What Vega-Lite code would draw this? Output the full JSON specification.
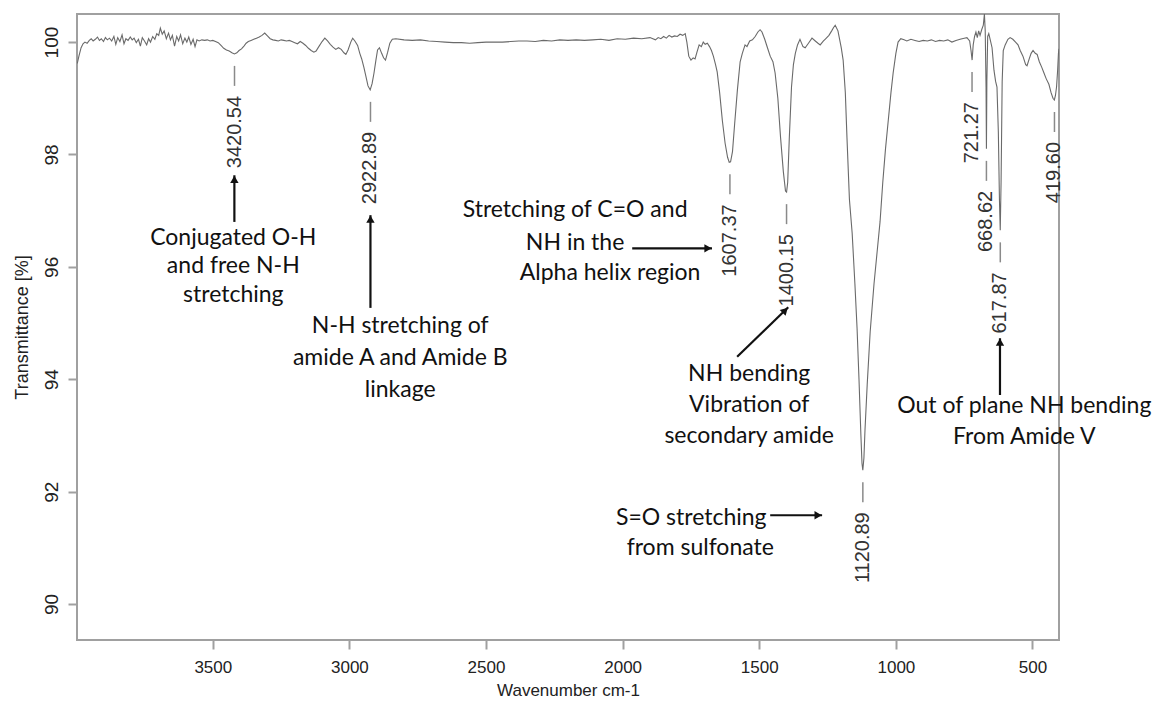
{
  "$schema": "https://vega.github.io/schema/vega-lite/v6.json",
  "width": 982,
  "height": 626,
  "autosize": "none",
  "padding": {"left": 77, "top": 14, "right": 103, "bottom": 70},
  "background": "white",
  "config": {
    "view": {"stroke": "#a0a0a0", "strokeWidth": 2},
    "axis": {
      "grid": false, "domain": false, "tickColor": "#a0a0a0", "tickWidth": 2, "tickSize": 9,
      "labelFont": "Liberation Sans", "titleFont": "Liberation Sans", "labelColor": "#222", "titleColor": "#222",
      "labelFontSize": 17, "titleFontSize": 17, "titleFontWeight": "normal"
    }
  },
  "datasets": {
    "spectrum": [
      {"wn":3996,"t":99.62},{"wn":3990,"t":99.75},{"wn":3982,"t":99.9},{"wn":3975,"t":99.97},{"wn":3968,"t":100.0},{"wn":3960,"t":99.98},{"wn":3952,"t":100.03},{"wn":3945,"t":100.06},{"wn":3938,"t":100.02},{"wn":3930,"t":100.05},{"wn":3922,"t":100.09},{"wn":3915,"t":100.03},{"wn":3908,"t":100.06},{"wn":3900,"t":100.01},{"wn":3893,"t":100.08},{"wn":3886,"t":100.04},{"wn":3878,"t":100.07},{"wn":3870,"t":100.02},{"wn":3862,"t":100.1},{"wn":3855,"t":99.96},{"wn":3848,"t":100.08},{"wn":3840,"t":100.01},{"wn":3832,"t":100.13},{"wn":3825,"t":99.97},{"wn":3818,"t":100.06},{"wn":3810,"t":100.03},{"wn":3802,"t":100.09},{"wn":3795,"t":100.04},{"wn":3788,"t":100.07},{"wn":3780,"t":99.99},{"wn":3772,"t":100.05},{"wn":3765,"t":99.93},{"wn":3758,"t":100.08},{"wn":3750,"t":100.02},{"wn":3742,"t":99.95},{"wn":3735,"t":100.06},{"wn":3728,"t":100.0},{"wn":3720,"t":100.1},{"wn":3712,"t":100.05},{"wn":3705,"t":100.15},{"wn":3698,"t":100.12},{"wn":3692,"t":100.25},{"wn":3685,"t":100.14},{"wn":3678,"t":100.2},{"wn":3670,"t":100.06},{"wn":3662,"t":100.16},{"wn":3655,"t":100.04},{"wn":3648,"t":100.12},{"wn":3640,"t":99.93},{"wn":3632,"t":100.1},{"wn":3625,"t":100.02},{"wn":3618,"t":100.13},{"wn":3610,"t":99.97},{"wn":3602,"t":100.07},{"wn":3595,"t":100.0},{"wn":3588,"t":100.09},{"wn":3580,"t":99.96},{"wn":3572,"t":100.05},{"wn":3565,"t":99.92},{"wn":3558,"t":100.04},{"wn":3550,"t":100.02},{"wn":3540,"t":100.04},{"wn":3530,"t":100.03},{"wn":3520,"t":100.04},{"wn":3510,"t":100.02},{"wn":3500,"t":100.03},{"wn":3490,"t":100.01},{"wn":3480,"t":99.99},{"wn":3470,"t":99.94},{"wn":3460,"t":99.89},{"wn":3450,"t":99.86},{"wn":3440,"t":99.84},{"wn":3430,"t":99.81},{"wn":3421,"t":99.79},{"wn":3412,"t":99.81},{"wn":3404,"t":99.85},{"wn":3395,"t":99.88},{"wn":3386,"t":99.93},{"wn":3378,"t":99.98},{"wn":3370,"t":100.01},{"wn":3360,"t":100.03},{"wn":3350,"t":100.05},{"wn":3340,"t":100.07},{"wn":3330,"t":100.09},{"wn":3320,"t":100.12},{"wn":3310,"t":100.16},{"wn":3300,"t":100.11},{"wn":3290,"t":100.06},{"wn":3280,"t":100.04},{"wn":3270,"t":100.03},{"wn":3260,"t":100.02},{"wn":3250,"t":100.04},{"wn":3240,"t":100.03},{"wn":3230,"t":100.02},{"wn":3220,"t":100.03},{"wn":3210,"t":100.01},{"wn":3200,"t":99.99},{"wn":3190,"t":99.97},{"wn":3180,"t":100.01},{"wn":3170,"t":99.98},{"wn":3160,"t":99.94},{"wn":3150,"t":99.89},{"wn":3140,"t":99.85},{"wn":3130,"t":99.82},{"wn":3122,"t":99.84},{"wn":3112,"t":99.92},{"wn":3100,"t":100.01},{"wn":3090,"t":100.07},{"wn":3080,"t":100.02},{"wn":3070,"t":99.96},{"wn":3060,"t":99.91},{"wn":3050,"t":99.87},{"wn":3040,"t":99.9},{"wn":3030,"t":99.87},{"wn":3020,"t":99.81},{"wn":3013,"t":99.78},{"wn":3005,"t":99.86},{"wn":2995,"t":100.0},{"wn":2988,"t":100.07},{"wn":2980,"t":100.02},{"wn":2970,"t":99.94},{"wn":2962,"t":99.8},{"wn":2955,"t":99.7},{"wn":2947,"t":99.55},{"wn":2940,"t":99.4},{"wn":2932,"t":99.22},{"wn":2924,"t":99.15},{"wn":2917,"t":99.26},{"wn":2910,"t":99.45},{"wn":2903,"t":99.68},{"wn":2897,"t":99.86},{"wn":2890,"t":99.9},{"wn":2882,"t":99.8},{"wn":2875,"t":99.72},{"wn":2868,"t":99.68},{"wn":2860,"t":99.82},{"wn":2852,"t":99.98},{"wn":2843,"t":100.05},{"wn":2830,"t":100.06},{"wn":2800,"t":100.04},{"wn":2770,"t":100.03},{"wn":2740,"t":100.04},{"wn":2710,"t":100.02},{"wn":2680,"t":100.01},{"wn":2650,"t":100.0},{"wn":2620,"t":99.99},{"wn":2590,"t":99.99},{"wn":2560,"t":99.98},{"wn":2530,"t":99.99},{"wn":2500,"t":100.0},{"wn":2470,"t":100.0},{"wn":2440,"t":100.0},{"wn":2410,"t":100.01},{"wn":2380,"t":100.02},{"wn":2350,"t":100.02},{"wn":2320,"t":100.01},{"wn":2290,"t":100.03},{"wn":2260,"t":100.02},{"wn":2230,"t":100.04},{"wn":2200,"t":100.03},{"wn":2170,"t":100.04},{"wn":2140,"t":100.03},{"wn":2110,"t":100.04},{"wn":2080,"t":100.05},{"wn":2050,"t":100.03},{"wn":2020,"t":100.06},{"wn":1990,"t":100.05},{"wn":1960,"t":100.07},{"wn":1930,"t":100.06},{"wn":1900,"t":100.08},{"wn":1880,"t":100.04},{"wn":1870,"t":100.08},{"wn":1860,"t":100.06},{"wn":1850,"t":100.1},{"wn":1840,"t":100.07},{"wn":1830,"t":100.12},{"wn":1820,"t":100.09},{"wn":1810,"t":100.11},{"wn":1800,"t":100.1},{"wn":1790,"t":100.14},{"wn":1780,"t":100.12},{"wn":1771,"t":100.15},{"wn":1765,"t":100.0},{"wn":1758,"t":99.75},{"wn":1750,"t":99.68},{"wn":1742,"t":99.72},{"wn":1735,"t":99.7},{"wn":1728,"t":99.82},{"wn":1720,"t":99.95},{"wn":1712,"t":99.92},{"wn":1705,"t":100.0},{"wn":1698,"t":99.96},{"wn":1690,"t":99.98},{"wn":1682,"t":99.92},{"wn":1675,"t":99.85},{"wn":1668,"t":99.75},{"wn":1660,"t":99.6},{"wn":1654,"t":99.47},{"wn":1645,"t":99.1},{"wn":1635,"t":98.6},{"wn":1625,"t":98.2},{"wn":1616,"t":97.95},{"wn":1610,"t":97.86},{"wn":1605,"t":97.87},{"wn":1598,"t":98.05},{"wn":1590,"t":98.55},{"wn":1580,"t":99.15},{"wn":1570,"t":99.65},{"wn":1562,"t":99.8},{"wn":1552,"t":99.95},{"wn":1545,"t":99.92},{"wn":1535,"t":100.02},{"wn":1525,"t":100.04},{"wn":1515,"t":100.1},{"wn":1505,"t":100.18},{"wn":1497,"t":100.22},{"wn":1490,"t":100.18},{"wn":1480,"t":100.05},{"wn":1470,"t":99.9},{"wn":1460,"t":99.75},{"wn":1450,"t":99.65},{"wn":1442,"t":99.45},{"wn":1432,"t":99.0},{"wn":1422,"t":98.3},{"wn":1412,"t":97.7},{"wn":1404,"t":97.35},{"wn":1400,"t":97.33},{"wn":1396,"t":97.5},{"wn":1390,"t":98.3},{"wn":1382,"t":99.2},{"wn":1375,"t":99.6},{"wn":1368,"t":99.8},{"wn":1360,"t":99.95},{"wn":1351,"t":100.05},{"wn":1340,"t":99.92},{"wn":1332,"t":99.9},{"wn":1320,"t":99.98},{"wn":1307,"t":100.07},{"wn":1295,"t":100.02},{"wn":1285,"t":99.98},{"wn":1277,"t":99.95},{"wn":1265,"t":100.02},{"wn":1259,"t":100.05},{"wn":1245,"t":100.12},{"wn":1235,"t":100.2},{"wn":1228,"t":100.26},{"wn":1222,"t":100.3},{"wn":1212,"t":100.2},{"wn":1200,"t":99.9},{"wn":1193,"t":99.68},{"wn":1185,"t":99.1},{"wn":1179,"t":98.3},{"wn":1170,"t":97.2},{"wn":1160,"t":96.6},{"wn":1150,"t":95.7},{"wn":1142,"t":94.9},{"wn":1135,"t":94.0},{"wn":1128,"t":93.0},{"wn":1124,"t":92.5},{"wn":1121,"t":92.38},{"wn":1117,"t":92.6},{"wn":1113,"t":93.1},{"wn":1105,"t":93.9},{"wn":1094,"t":94.85},{"wn":1080,"t":95.7},{"wn":1068,"t":96.3},{"wn":1058,"t":96.8},{"wn":1048,"t":97.5},{"wn":1038,"t":98.1},{"wn":1028,"t":98.6},{"wn":1018,"t":99.1},{"wn":1010,"t":99.45},{"wn":1000,"t":99.8},{"wn":992,"t":100.0},{"wn":982,"t":100.06},{"wn":970,"t":100.04},{"wn":960,"t":100.02},{"wn":945,"t":100.05},{"wn":930,"t":100.03},{"wn":915,"t":100.01},{"wn":900,"t":100.03},{"wn":885,"t":100.02},{"wn":870,"t":100.04},{"wn":855,"t":100.01},{"wn":840,"t":100.03},{"wn":825,"t":100.02},{"wn":810,"t":100.04},{"wn":795,"t":100.0},{"wn":780,"t":100.03},{"wn":765,"t":100.05},{"wn":750,"t":100.07},{"wn":740,"t":100.08},{"wn":730,"t":100.02},{"wn":725,"t":99.85},{"wn":721,"t":99.68},{"wn":717,"t":99.95},{"wn":712,"t":100.1},{"wn":707,"t":100.18},{"wn":702,"t":100.08},{"wn":697,"t":100.2},{"wn":692,"t":100.12},{"wn":686,"t":100.22},{"wn":680,"t":100.3},{"wn":676,"t":100.5},{"wn":673,"t":100.2},{"wn":670,"t":99.2},{"wn":668.6,"t":98.1},{"wn":667,"t":99.3},{"wn":664,"t":100.1},{"wn":660,"t":100.15},{"wn":655,"t":100.05},{"wn":648,"t":99.9},{"wn":641,"t":99.5},{"wn":635,"t":99.3},{"wn":630,"t":99.2},{"wn":625,"t":98.4},{"wn":621,"t":97.2},{"wn":618,"t":96.65},{"wn":615,"t":97.5},{"wn":611,"t":99.3},{"wn":607,"t":99.85},{"wn":600,"t":99.95},{"wn":590,"t":100.05},{"wn":582,"t":100.08},{"wn":572,"t":100.05},{"wn":562,"t":100.0},{"wn":553,"t":99.95},{"wn":545,"t":99.85},{"wn":535,"t":99.75},{"wn":525,"t":99.6},{"wn":520,"t":99.58},{"wn":512,"t":99.7},{"wn":505,"t":99.8},{"wn":498,"t":99.85},{"wn":490,"t":99.8},{"wn":483,"t":99.78},{"wn":475,"t":99.65},{"wn":466,"t":99.55},{"wn":458,"t":99.45},{"wn":450,"t":99.35},{"wn":440,"t":99.25},{"wn":432,"t":99.1},{"wn":425,"t":99.0},{"wn":420,"t":98.97},{"wn":416,"t":99.05},{"wn":412,"t":99.2},{"wn":408,"t":99.5},{"wn":405,"t":99.8},{"wn":403,"t":99.88}
    ],
    "peaks": [
      {"wn":3420.54,"t":99.79,"label":"3420.54"},
      {"wn":2922.89,"t":99.15,"label":"2922.89"},
      {"wn":1607.37,"t":97.86,"label":"1607.37"},
      {"wn":1400.15,"t":97.33,"label":"1400.15"},
      {"wn":1120.89,"t":92.38,"label":"1120.89"},
      {"wn":721.27,"t":99.68,"label":"721.27"},
      {"wn":668.62,"t":98.1,"label":"668.62"},
      {"wn":617.87,"t":96.65,"label":"617.87"},
      {"wn":419.6,"t":98.97,"label":"419.60"}
    ],
    "notes": [
      {"text":"Conjugated O-H","wn":3425,"t":96.51},
      {"text":"and free N-H","wn":3425,"t":96.01},
      {"text":"stretching","wn":3425,"t":95.5},
      {"text":"N-H stretching of","wn":2814,"t":94.95},
      {"text":"amide A and Amide B","wn":2814,"t":94.38},
      {"text":"linkage","wn":2814,"t":93.81},
      {"text":"Stretching of C=O and","wn":2174,"t":97.01},
      {"text":"NH in the","wn":2174,"t":96.42},
      {"text":"Alpha helix region","wn":2046,"t":95.89},
      {"text":"NH bending","wn":1537,"t":94.09},
      {"text":"Vibration of","wn":1537,"t":93.54},
      {"text":"secondary amide","wn":1537,"t":92.99},
      {"text":"S=O stretching","wn":1749,"t":91.53},
      {"text":"from sulfonate","wn":1716,"t":91.0},
      {"text":"Out of plane NH bending","wn":530,"t":93.52},
      {"text":"From Amide V","wn":530,"t":92.97}
    ],
    "arrows": [
      {"wn":3421,"t":96.8,"wn2":3421,"t2":97.63,"dir":"up"},
      {"wn":2923,"t":95.27,"wn2":2923,"t2":96.92,"dir":"up"},
      {"wn":1965,"t":96.33,"wn2":1673,"t2":96.33,"dir":"right"},
      {"wn":1581,"t":94.4,"wn2":1394,"t2":95.28,"dir":"diag"},
      {"wn":1460,"t":91.58,"wn2":1270,"t2":91.58,"dir":"right"},
      {"wn":619,"t":93.72,"wn2":619,"t2":94.73,"dir":"up"}
    ]
  },
  "layer": [
    {
      "data": {"name": "spectrum"},
      "mark": {"type": "line", "color": "#6a6a6a", "strokeWidth": 1.1, "clip": true},
      "encoding": {
        "x": {"field": "wn", "type": "quantitative", "scale": {"domain": [403, 3997], "reverse": true, "nice": false, "zero": false},
          "axis": {"values": [500,1000,1500,2000,2500,3000,3500], "format": "d", "title": "Wavenumber cm-1", "labelPadding": 10, "titlePadding": 7}},
        "y": {"field": "t", "type": "quantitative", "scale": {"domain": [89.36, 100.5], "nice": false, "zero": false},
          "axis": {"values": [90,92,94,96,98,100], "format": "d", "title": "Transmittance [%]", "labelAngle": 270, "labelAlign": "center", "labelBaseline": "bottom", "labelPadding": 7, "labelFontSize": 19, "titleFontSize": 18, "titlePadding": 11}}
      }
    },
    {
      "data": {"name": "peaks"},
      "mark": {"type": "rule", "color": "#8a8a8a", "strokeWidth": 1.5, "yOffset": 12, "y2Offset": 32},
      "encoding": {
        "x": {"field": "wn", "type": "quantitative", "scale": {"domain": [403, 3997], "reverse": true, "nice": false, "zero": false}},
        "y": {"field": "t", "type": "quantitative", "scale": {"domain": [89.36, 100.5], "nice": false, "zero": false}},
        "y2": {"field": "t"}
      }
    },
    {
      "data": {"name": "peaks"},
      "mark": {"type": "text", "angle": 270, "align": "right", "baseline": "middle", "yOffset": 42, "font": "Liberation Sans", "fontSize": 20, "color": "#333"},
      "encoding": {
        "x": {"field": "wn", "type": "quantitative", "scale": {"domain": [403, 3997], "reverse": true, "nice": false, "zero": false}},
        "y": {"field": "t", "type": "quantitative", "scale": {"domain": [89.36, 100.5], "nice": false, "zero": false}},
        "text": {"field": "label"}
      }
    },
    {
      "data": {"name": "notes"},
      "mark": {"type": "text", "align": "center", "baseline": "middle", "font": "Lato", "fontSize": 23, "color": "#111"},
      "encoding": {
        "x": {"field": "wn", "type": "quantitative", "scale": {"domain": [403, 3997], "reverse": true, "nice": false, "zero": false}},
        "y": {"field": "t", "type": "quantitative", "scale": {"domain": [89.36, 100.5], "nice": false, "zero": false}},
        "text": {"field": "text"}
      }
    },
    {
      "data": {"name": "arrows"},
      "mark": {"type": "rule", "color": "#111", "strokeWidth": 2.2},
      "encoding": {
        "x": {"field": "wn", "type": "quantitative", "scale": {"domain": [403, 3997], "reverse": true, "nice": false, "zero": false}},
        "y": {"field": "t", "type": "quantitative", "scale": {"domain": [89.36, 100.5], "nice": false, "zero": false}},
        "x2": {"field": "wn2"},
        "y2": {"field": "t2"}
      }
    },
    {
      "data": {"name": "arrows"},
      "transform": [{"filter": "datum.dir === 'up'"}],
      "mark": {"type": "point", "shape": "triangle-up", "filled": true, "color": "#111", "size": 70, "opacity": 1, "yOffset": 4},
      "encoding": {
        "x": {"field": "wn2", "type": "quantitative", "scale": {"domain": [403, 3997], "reverse": true, "nice": false, "zero": false}},
        "y": {"field": "t2", "type": "quantitative", "scale": {"domain": [89.36, 100.5], "nice": false, "zero": false}}
      }
    },
    {
      "data": {"name": "arrows"},
      "transform": [{"filter": "datum.dir === 'right'"}],
      "mark": {"type": "point", "shape": "triangle-right", "filled": true, "color": "#111", "size": 70, "opacity": 1, "xOffset": -4},
      "encoding": {
        "x": {"field": "wn2", "type": "quantitative", "scale": {"domain": [403, 3997], "reverse": true, "nice": false, "zero": false}},
        "y": {"field": "t2", "type": "quantitative", "scale": {"domain": [89.36, 100.5], "nice": false, "zero": false}}
      }
    },
    {
      "data": {"name": "arrows"},
      "transform": [{"filter": "datum.dir === 'diag'"}],
      "mark": {"type": "point", "shape": "triangle-up", "angle": 45, "filled": true, "color": "#111", "size": 70, "opacity": 1, "xOffset": -3, "yOffset": 3},
      "encoding": {
        "x": {"field": "wn2", "type": "quantitative", "scale": {"domain": [403, 3997], "reverse": true, "nice": false, "zero": false}},
        "y": {"field": "t2", "type": "quantitative", "scale": {"domain": [89.36, 100.5], "nice": false, "zero": false}}
      }
    }
  ]
}
